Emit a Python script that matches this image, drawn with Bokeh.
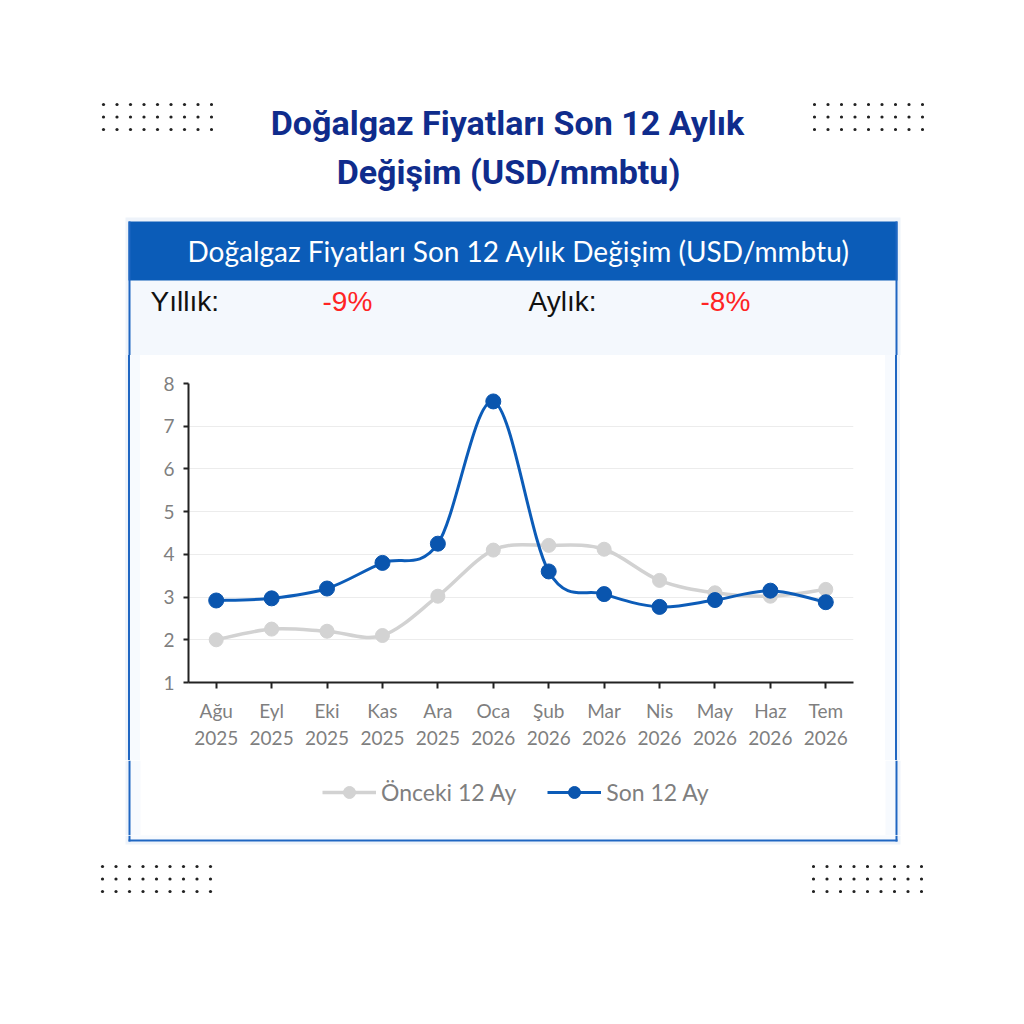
from bokeh.plotting import figure
from bokeh.layouts import column, row
from bokeh.models import Range1d, FixedTicker, Legend, LegendItem, LinearAxis
from bokeh.core.properties import value
from bokeh.embed import file_html
from bokeh.resources import INLINE

# data
months = ["Ağu", "Eyl", "Eki", "Kas", "Ara", "Oca", "Şub", "Mar", "Nis", "May", "Haz", "Tem"]
years = ["2025", "2025", "2025", "2025", "2025", "2026", "2026", "2026", "2026", "2026", "2026", "2026"]
onceki = [2.00, 2.25, 2.20, 2.10, 3.02, 4.10, 4.21, 4.12, 3.39, 3.10, 3.02, 3.18]
son = [2.92, 2.97, 3.20, 3.80, 4.25, 7.58, 3.60, 3.07, 2.77, 2.93, 3.15, 2.88]
y_ticks = [1, 2, 3, 4, 5, 6, 7, 8]
series_names = ["Önceki 12 Ay", "Son 12 Ay"]
title_lines = ["Doğalgaz Fiyatları Son 12 Aylık", "Değişim (USD/mmbtu)"]
header = "Doğalgaz Fiyatları Son 12 Aylık Değişim (USD/mmbtu)"
yillik = "-9%"
aylik = "-8%"

BLUE = "#0b5cb8"
BORDER = "#1f66c2"
PANEL = "#f4f8fd"
SIDE = "#f7fafe"
SHADOW = "#eef3fa"
GREY_TXT = "#7f7f7f"
GREY_LINE = "#d2d2d2"
BLUE_LINE = "#0c5cb8"

# box edges painted as a css background (shows through the chart's transparent border)
BOX_SIDES = ("linear-gradient(to right, #ffffff 0px, #ffffff 125px, #eef3fa 125px, #eef3fa 128px, "
             "#1f66c2 128px, #1f66c2 130px, #f7fafe 130px, #f7fafe 140px, #ffffff 140px, #ffffff 885px, "
             "#f7fafe 885px, #f7fafe 895px, #1f66c2 895px, #1f66c2 897px, #eef3fa 897px, #eef3fa 900px, "
             "#ffffff 900px, #ffffff 1016px)")


def pix(x0, x1, y0, y1):
    # a blank figure whose data units are page pixels (y grows downwards)
    f = figure(width=x1 - x0, height=y1 - y0, x_range=Range1d(x0, x1), y_range=Range1d(y1, y0),
               x_axis_type=None, y_axis_type=None, toolbar_location=None,
               output_backend="svg", min_border=0, title=None)
    f.outline_line_color = None
    f.background_fill_color = "white"
    f.border_fill_color = "white"
    return f


def sides(f, y0, y1):
    # left/right edges of the framed box
    f.quad(left=[125, 897], right=[128, 900], top=y0, bottom=y1, fill_color=SHADOW, line_color=None)
    f.quad(left=[128, 885], right=[140, 897], top=y0, bottom=y1, fill_color=SIDE, line_color=None)
    f.segment(x0=[129, 896], y0=[y0, y0], x1=[129, 896], y1=[y1, y1], line_color=BORDER, line_width=2)


def dots(f, x0, y0):
    xs = [x0 + 13.5 * i for i in range(9) for j in range(3)]
    ys = [y0 + 12.5 * j for i in range(9) for j in range(3)]
    f.scatter(xs, ys, size=3.2, color="#222222", line_color=None)


def smooth(xs, ys):
    # catmull-rom control points for bezier segments through the data
    n = len(xs)
    d = dict(x0=[], y0=[], x1=[], y1=[], cx0=[], cy0=[], cx1=[], cy1=[])
    for i in range(n - 1):
        a = max(i - 1, 0)
        b = min(i + 2, n - 1)
        d["x0"].append(xs[i]); d["y0"].append(ys[i])
        d["x1"].append(xs[i + 1]); d["y1"].append(ys[i + 1])
        d["cx0"].append(xs[i] + (xs[i + 1] - xs[a]) / 6)
        d["cy0"].append(ys[i] + (ys[i + 1] - ys[a]) / 6)
        d["cx1"].append(xs[i + 1] - (xs[b] - xs[i]) / 6)
        d["cy1"].append(ys[i + 1] - (ys[b] - ys[i]) / 6)
    return d


# ---- top: dots, title, box header
top = pix(0, 1016, 0, 355)
dots(top, 103, 104)
dots(top, 814, 104)
top.text(x=[507, 508], y=[122, 171], text=title_lines, text_font=value("Roboto"),
         text_font_style="bold", text_font_size="34px", text_color="#0f2c8c",
         text_align="center", text_baseline="middle")
top.quad(left=125, right=900, top=217, bottom=355, fill_color=SHADOW, line_color=None)
top.quad(left=128, right=897, top=221, bottom=355, fill_color=PANEL, line_color=None)
top.quad(left=128, right=897, top=221, bottom=280, fill_color=BLUE, line_color=None)
top.segment(x0=[129, 896], y0=[221, 221], x1=[129, 896], y1=[355, 355], line_color=BORDER, line_width=2)
top.text(x=[187], y=[250], text=[header], text_font=value("Lato"), text_font_size="28px",
         text_color="white", text_baseline="middle")
top.text(x=[150, 528], y=[301, 301], text=["Yıllık:", "Aylık:"], text_font=value("Liberation Sans"),
         text_font_size="28px", text_color="#111111", text_baseline="middle")
top.text(x=[322, 700], y=[301, 301], text=[yillik, aylik], text_font=value("Liberation Sans"),
         text_font_size="28px", text_color="#ff2424", text_baseline="middle")

# ---- middle: the chart
idx = list(range(len(months)))
p = figure(width=1016, height=405, x_range=Range1d(-0.5, 11.5), y_range=Range1d(1, 8),
           toolbar_location=None, output_backend="svg", title=None,
           min_border_left=188, min_border_right=163, min_border_top=28, min_border_bottom=78)
p.outline_line_color = None
p.background_fill_color = "white"
p.border_fill_alpha = 0
p.styles = {"background-image": BOX_SIDES}

g = smooth(idx, onceki)
p.bezier(x0="x0", y0="y0", x1="x1", y1="y1", cx0="cx0", cy0="cy0", cx1="cx1", cy1="cy1",
         source=g, line_color=GREY_LINE, line_width=3.5)
p.scatter(idx, onceki, size=14, fill_color="#d3d3d3", line_color="#d3d3d3")
b = smooth(idx, son)
p.bezier(x0="x0", y0="y0", x1="x1", y1="y1", cx0="cx0", cy0="cy0", cx1="cx1", cy1="cy1",
         source=b, line_color=BLUE_LINE, line_width=3)
p.scatter(idx, son, size=15, fill_color="#0a55ae", line_color="#0a55ae")

p.xgrid.visible = False
p.ygrid.ticker = FixedTicker(ticks=y_ticks)
p.ygrid.grid_line_color = "#ececec"

p.yaxis.ticker = FixedTicker(ticks=y_ticks)
p.xaxis.ticker = FixedTicker(ticks=idx)
p.xaxis.major_label_overrides = {i: months[i] for i in idx}
for ax in (p.xaxis, p.yaxis):
    ax.axis_line_color = "#222222"
    ax.axis_line_width = 2
    ax.major_tick_line_color = "#222222"
    ax.major_tick_line_width = 2
    ax.major_tick_in = 0
    ax.minor_tick_line_color = None
    ax.major_label_text_font = "Lato"
    ax.major_label_text_font_size = "19px"
    ax.major_label_text_color = GREY_TXT
p.yaxis.major_tick_out = 5
p.yaxis.major_label_standoff = 9
p.xaxis.major_tick_out = 6
p.xaxis.major_label_standoff = 10

# second row of x labels: the years
year_axis = LinearAxis(ticker=FixedTicker(ticks=idx), major_label_overrides={i: years[i] for i in idx},
                       axis_line_color=None, major_tick_line_color=None, minor_tick_line_color=None,
                       major_tick_out=0, major_tick_in=0, major_label_standoff=6,
                       major_label_text_font="Lato", major_label_text_font_size="19px",
                       major_label_text_color=GREY_TXT)
p.add_layout(year_axis, "below")

# ---- legend band (keys only, no data drawn)
leg = pix(0, 1016, 760, 835)
sides(leg, 760, 835)
nan = [float("nan")]
g_key = leg.line(nan, nan, line_color=GREY_LINE, line_width=3.5)
g_dot = leg.scatter(nan, nan, size=14, fill_color="#d3d3d3", line_color="#d3d3d3")
b_key = leg.line(nan, nan, line_color=BLUE_LINE, line_width=3)
b_dot = leg.scatter(nan, nan, size=15, fill_color="#0a55ae", line_color="#0a55ae")
legend = Legend(items=[LegendItem(label=series_names[0], renderers=[g_key, g_dot]),
                       LegendItem(label=series_names[1], renderers=[b_key, b_dot])],
                orientation="horizontal", location=(322, 28), glyph_width=54, glyph_height=30,
                label_text_font="Lato", label_text_font_size="23px", label_text_color=GREY_TXT,
                label_standoff=5, spacing=31, border_line_color=None, background_fill_alpha=0,
                padding=0, margin=0)
leg.add_layout(legend)

# ---- bottom: box bottom edge and dots
bottom = pix(0, 1016, 835, 1016)
bottom.quad(left=125, right=900, top=835, bottom=844, fill_color=SHADOW, line_color=None)
bottom.quad(left=128, right=897, top=835, bottom=841, fill_color=SIDE, line_color=None)
bottom.segment(x0=[129, 896, 128], y0=[835, 835, 840], x1=[129, 896, 897], y1=[841, 841, 840],
               line_color=BORDER, line_width=2)
dots(bottom, 102, 866)
dots(bottom, 813, 866)

layout = column(top, row(p), leg, bottom)
open("out.html", "w").write(file_html(layout, INLINE))
